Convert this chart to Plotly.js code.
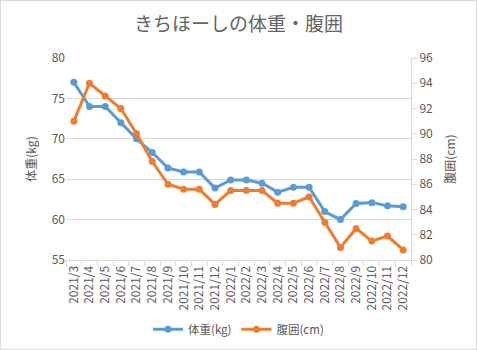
<!DOCTYPE html>
<html><head><meta charset="utf-8">
<script src="https://cdn.plot.ly/plotly-3.0.1.min.js"></script>
<style>
html,body{margin:0;padding:0;background:#fff;}
#wrap{width:477px;height:350px;box-sizing:border-box;border:1px solid #d9d9d9;overflow:hidden;}
#chart{width:475px;height:348px;}
</style>
</head><body>
<div id="wrap"><div id="chart"></div></div>
<script>
const months = ["2021/3","2021/4","2021/5","2021/6","2021/7","2021/8","2021/9","2021/10","2021/11","2021/12",
  "2022/1","2022/2","2022/3","2022/4","2022/5","2022/6","2022/7","2022/8","2022/9","2022/10","2022/11","2022/12"];
const weight = [77, 74, 74, 72, 70, 68.3, 66.4, 65.9, 65.9, 63.9, 64.9, 64.9, 64.5, 63.4, 64, 64, 61, 60, 62, 62.1, 61.7, 61.6];
const waist = [91, 94, 93, 92, 90, 87.8, 86, 85.6, 85.6, 84.4, 85.5, 85.5, 85.5, 84.5, 84.5, 85, 83, 81, 82.5, 81.5, 81.9, 80.8];

const FONT = '"Noto Sans CJK JP", "Noto Sans", sans-serif';
const GRAY = '#595959';

const traces = [
  {x: months, y: weight, name: '体重(kg)', type: 'scatter', mode: 'lines+markers',
   line: {color: '#5B9BD5', width: 3}, marker: {color: '#5B9BD5', size: 7}, yaxis: 'y'},
  {x: months, y: waist, name: '腹囲(cm)', type: 'scatter', mode: 'lines+markers',
   line: {color: '#ED7D31', width: 3}, marker: {color: '#ED7D31', size: 7}, yaxis: 'y2'}
];

const layout = {
  width: 475, height: 348,
  margin: {l: 65, r: 65, t: 57, b: 89, autoexpand: false},
  paper_bgcolor: '#fff', plot_bgcolor: '#fff',
  font: {family: FONT, color: GRAY, size: 12},
  title: {text: 'きちほーしの体重・腹囲', font: {family: FONT, size: 19, color: '#636363'},
          x: 0.5, xanchor: 'center', y: 0.932, yanchor: 'middle', automargin: false},
  showlegend: true,
  legend: {orientation: 'h', x: 0.5, xanchor: 'center', yref: 'container', y: 0.057, yanchor: 'middle',
           font: {family: FONT, size: 11.5, color: GRAY}},
  xaxis: {type: 'category', range: [-0.5, 21.5], tickangle: -90, automargin: false,
          showline: true, linecolor: '#d9d9d9', linewidth: 1,
          ticks: 'outside', tickson: 'boundaries', ticklen: 5, tickcolor: '#d9d9d9',
          showgrid: false, tickfont: {family: FONT, size: 12, color: GRAY}},
  yaxis: {range: [55, 80], dtick: 5, tick0: 55, showgrid: true, gridcolor: '#d9d9d9',
          zeroline: false, showline: false, ticks: '', automargin: false,
          tickfont: {family: FONT, size: 12, color: GRAY},
          title: {text: '体重(kg)', font: {family: FONT, size: 12, color: GRAY}, standoff: 12}},
  yaxis2: {range: [80, 96], dtick: 2, tick0: 80, overlaying: 'y', side: 'right', automargin: false,
           showgrid: false, zeroline: false, showline: true, linecolor: '#d9d9d9',
           ticks: 'outside', ticklen: 5, tickcolor: '#d9d9d9',
           tickfont: {family: FONT, size: 12, color: GRAY},
           title: {text: '腹囲(cm)', font: {family: FONT, size: 12, color: GRAY}, standoff: 14}}
};

Plotly.newPlot('chart', traces, layout, {staticPlot: true, displayModeBar: false});
</script>
</body></html>
